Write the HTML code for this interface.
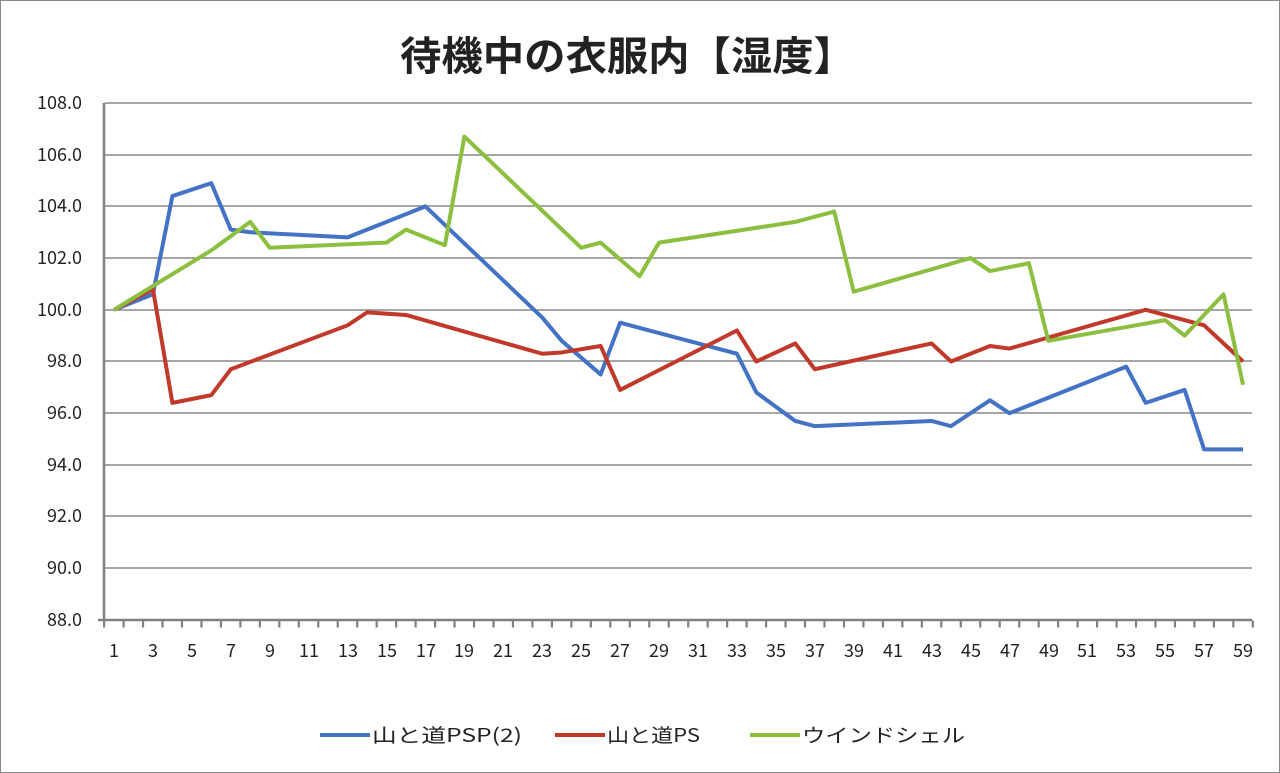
<!DOCTYPE html>
<html><head><meta charset="utf-8"><style>
body{margin:0;background:#fff}
svg{display:block}
text{font-family:"Noto Sans CJK JP",sans-serif;fill:#222}
</style></head><body>
<svg width="1280" height="773" viewBox="0 0 1280 773">
<rect x="0.5" y="0.5" width="1279" height="772" fill="#fff" stroke="#888"/>
<text x="400" y="70" font-size="40" font-weight="bold" textLength="455" lengthAdjust="spacingAndGlyphs">待機中の衣服内【湿度】</text>
<g stroke="#888" stroke-width="1.5">
<line x1="105" y1="103" x2="1252" y2="103"/><line x1="105" y1="155" x2="1252" y2="155"/>
<line x1="105" y1="206" x2="1252" y2="206"/><line x1="105" y1="258" x2="1252" y2="258"/>
<line x1="105" y1="310" x2="1252" y2="310"/><line x1="105" y1="361" x2="1252" y2="361"/>
<line x1="105" y1="413" x2="1252" y2="413"/><line x1="105" y1="465" x2="1252" y2="465"/>
<line x1="105" y1="516" x2="1252" y2="516"/><line x1="105" y1="568" x2="1252" y2="568"/>
</g>
<line x1="104" y1="103" x2="104" y2="621" stroke="#808080" stroke-width="2.5"/>
<line x1="98" y1="620" x2="1252" y2="620" stroke="#808080" stroke-width="2.5"/>
<line x1="103" y1="624" x2="1254" y2="624" stroke="#808080" stroke-width="7" stroke-dasharray="2.2 17.27"/>
<g font-size="18" text-anchor="end">
<text x="82" y="109">108.0</text><text x="82" y="161">106.0</text><text x="82" y="212">104.0</text>
<text x="82" y="264">102.0</text><text x="82" y="316">100.0</text><text x="82" y="367">98.0</text>
<text x="82" y="419">96.0</text><text x="82" y="471">94.0</text><text x="82" y="522">92.0</text>
<text x="82" y="574">90.0</text><text x="82" y="626">88.0</text>
</g>
<g font-size="18" text-anchor="middle">
<text x="114" y="657">1</text><text x="153" y="657">3</text><text x="192" y="657">5</text><text x="231" y="657">7</text>
<text x="270" y="657">9</text><text x="309" y="657">11</text><text x="348" y="657">13</text><text x="387" y="657">15</text>
<text x="426" y="657">17</text><text x="464" y="657">19</text><text x="503" y="657">21</text><text x="542" y="657">23</text>
<text x="581" y="657">25</text><text x="620" y="657">27</text><text x="659" y="657">29</text><text x="698" y="657">31</text>
<text x="737" y="657">33</text><text x="776" y="657">35</text><text x="815" y="657">37</text><text x="854" y="657">39</text>
<text x="893" y="657">41</text><text x="932" y="657">43</text><text x="971" y="657">45</text><text x="1010" y="657">47</text>
<text x="1049" y="657">49</text><text x="1087" y="657">51</text><text x="1126" y="657">53</text><text x="1165" y="657">55</text>
<text x="1204" y="657">57</text><text x="1243" y="657">59</text>
</g>
<g transform="translate(94.53,2894.8) scale(19.466,-25.85)" fill="none" stroke-width="4" stroke-linejoin="round">
<polyline vector-effect="non-scaling-stroke" stroke="#4472c4" points="1,100 3,100.6 4,104.4 6,104.9 7,103.1 8,103.0 13,102.8 17,104.0 23,99.7 24,98.8 26,97.5 27,99.5 33,98.3 34,96.8 36,95.7 37,95.5 43,95.7 44,95.5 46,96.5 47,96.0 53,97.8 54,96.4 56,96.9 57,94.6 59,94.6"/>
<polyline vector-effect="non-scaling-stroke" stroke="#c0392b" points="1,100 3,100.8 4,96.4 6,96.7 7,97.7 13,99.4 14,99.9 16,99.8 23,98.3 24,98.35 26,98.6 27,96.9 33,99.2 34,98.0 36,98.7 37,97.7 43,98.7 44,98.0 46,98.6 47,98.5 54,100.0 57,99.4 59,98.0"/>
<polyline vector-effect="non-scaling-stroke" stroke="#8cbf3f" points="1,100 6,102.3 8,103.4 9,102.4 15,102.6 16,103.1 18,102.5 19,106.7 25,102.4 26,102.6 28,101.3 29,102.6 36,103.4 38,103.8 39,100.7 45,102.0 46,101.5 48,101.8 49,98.8 55,99.6 56,99.0 58,100.6 59,97.1"/>
</g>
<g font-size="19">
<line x1="320" y1="735" x2="370" y2="735" stroke="#4472c4" stroke-width="4"/><text x="372" y="742" textLength="150" lengthAdjust="spacingAndGlyphs">山と道PSP(2)</text>
<line x1="555" y1="735" x2="605" y2="735" stroke="#c0392b" stroke-width="4"/><text x="607" y="742" textLength="93" lengthAdjust="spacingAndGlyphs">山と道PS</text>
<line x1="750" y1="735" x2="800" y2="735" stroke="#8cbf3f" stroke-width="4"/><text x="802" y="742" textLength="163" lengthAdjust="spacingAndGlyphs">ウインドシェル</text>
</g>
</svg>
</body></html>
